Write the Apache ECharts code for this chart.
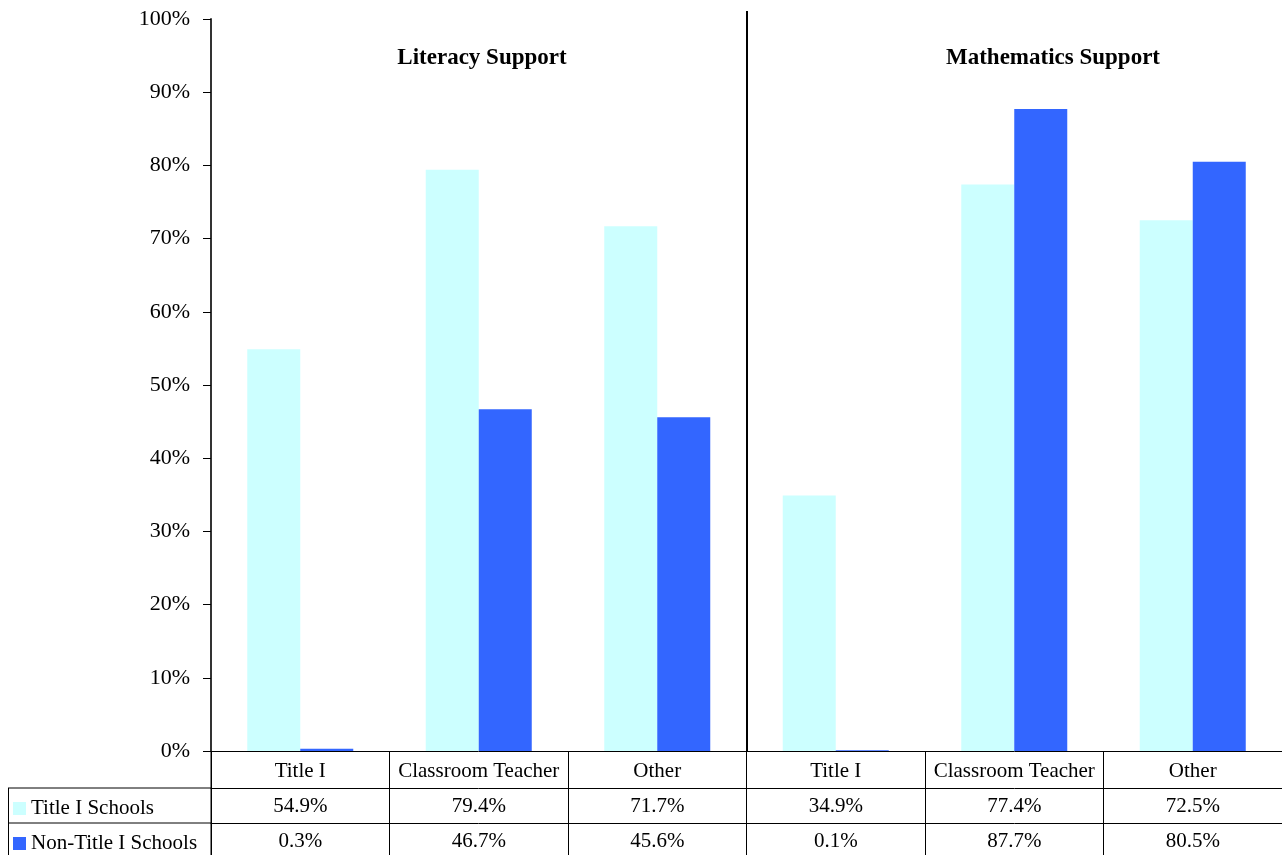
<!DOCTYPE html>
<html>
<head>
<meta charset="utf-8">
<script src="https://cdn.jsdelivr.net/npm/echarts@6/dist/echarts.min.js"></script>
<style>
  html, body { margin: 0; padding: 0; background: #fff; }
  #chart { width: 1282px; height: 855px; }
</style>
</head>
<body>
<div id="chart"></div>
<script>
const categories = ['Title I', 'Classroom Teacher', 'Other', 'Title I', 'Classroom Teacher', 'Other'];
const seriesNames = ['Title I Schools', 'Non-Title I Schools'];
const titleSchools = [54.9, 79.4, 71.7, 34.9, 77.4, 72.5];
const nonTitleSchools = [0.3, 46.7, 45.6, 0.1, 87.7, 80.5];
const groupTitles = ['Literacy Support', 'Mathematics Support'];
const colors = ['#ccffff', '#3366ff'];

const font = '"Liberation Serif", "Times New Roman", serif';
const lineColor = '#000';

const elem = document.getElementById('chart');
const myChart = echarts.init(elem, null, { renderer: 'canvas' });

function pct(v) {
    return v.toFixed(1) + '%';
}

function tableAxis(data, offset, tickLen, margin) {
    return {
        type: 'category',
        position: 'bottom',
        offset: offset,
        data: data,
        axisLine: { show: true, lineStyle: { color: lineColor, width: 1 } },
        axisTick: { show: true, length: tickLen, lineStyle: { color: lineColor, width: 1 } },
        axisLabel: { interval: 0, color: '#000', fontFamily: font, fontSize: 21, margin: margin },
        splitLine: { show: false }
    };
}

myChart.setOption({
    backgroundColor: '#fff',
    animation: false,
    grid: { left: 211, right: 0, top: 19, bottom: 104 },
    legend: {
        orient: 'vertical',
        left: 13,
        top: 798,
        padding: 0,
        itemWidth: 13,
        itemHeight: 13,
        itemGap: 14,
        icon: 'rect',
        selectedMode: false,
        textStyle: { fontFamily: font, fontSize: 21, color: '#000', lineHeight: 21 },
        data: seriesNames
    },
    xAxis: [
        tableAxis(categories, 0, 37, 10),
        tableAxis(titleSchools.map(pct), 37, 35, 8),
        tableAxis(nonTitleSchools.map(pct), 72, 32, 8)
    ],
    yAxis: {
        type: 'value',
        min: 0,
        max: 100,
        interval: 10,
        axisLine: { show: true, lineStyle: { color: '#333', width: 2 } },
        axisTick: { show: true, length: 8, lineStyle: { color: '#000' } },
        axisLabel: { formatter: '{value}%', color: '#000', fontFamily: font, fontSize: 22, margin: 21 },
        splitLine: { show: false }
    },
    series: [
        {
            name: seriesNames[0],
            type: 'bar',
            xAxisIndex: 0,
            data: titleSchools,
            barWidth: 53,
            barGap: '0%',
            itemStyle: { color: colors[0] }
        },
        {
            name: seriesNames[1],
            type: 'bar',
            xAxisIndex: 0,
            data: nonTitleSchools,
            barWidth: 53,
            barGap: '0%',
            itemStyle: { color: colors[1] }
        }
    ]
});

// divider between the two groups, titles and the left part of the table
function drawExtras() {
    const x3 = myChart.convertToPixel({ xAxisIndex: 0 }, 2);
    const x4 = myChart.convertToPixel({ xAxisIndex: 0 }, 3);
    const divX = Math.round((x3 + x4) / 2);
    const y0 = myChart.convertToPixel({ yAxisIndex: 0 }, 0);
    const row1 = y0 + 37;
    const row2 = y0 + 72;
    myChart.setOption({
        graphic: [
            { type: 'line', shape: { x1: divX, y1: 11, x2: divX, y2: y0 }, style: { stroke: '#000', lineWidth: 2 } },
            { type: 'line', shape: { x1: 8, y1: row1, x2: 211, y2: row1 }, style: { stroke: lineColor, lineWidth: 1 } },
            { type: 'line', shape: { x1: 8, y1: row2, x2: 211, y2: row2 }, style: { stroke: lineColor, lineWidth: 1 } },
            { type: 'line', shape: { x1: 8.5, y1: row1, x2: 8.5, y2: 855 }, style: { stroke: lineColor, lineWidth: 1 } },
            { type: 'line', shape: { x1: 211, y1: y0, x2: 211, y2: 855 }, style: { stroke: lineColor, lineWidth: 1 } },
            { type: 'text', x: 482, y: 58, style: { text: groupTitles[0], font: 'bold 23px ' + font, fill: '#000', textAlign: 'center', textVerticalAlign: 'middle' } },
            { type: 'text', x: 1053, y: 58, style: { text: groupTitles[1], font: 'bold 23px ' + font, fill: '#000', textAlign: 'center', textVerticalAlign: 'middle' } }
        ]
    });
}
drawExtras();
</script>
</body>
</html>
